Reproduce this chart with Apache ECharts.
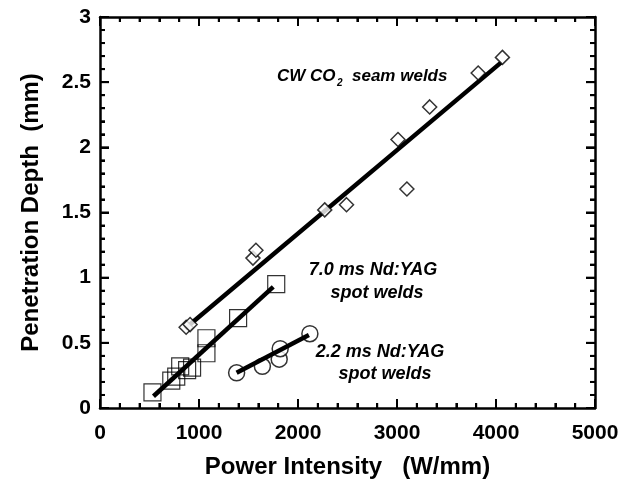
<!DOCTYPE html>
<html><head><meta charset="utf-8">
<script src="https://cdn.jsdelivr.net/npm/echarts@6/dist/echarts.min.js"></script>
<style>html,body{margin:0;background:#fff}#c{width:637px;height:485px}</style>
</head><body><div id="c"></div>
<script>
// CW CO2 seam welds (diamonds)
const co2Power = [870, 910, 1545, 1575, 2270, 2490, 3010, 3100, 3330, 3820, 4065];
const co2Depth = [0.62, 0.64, 1.15, 1.21, 1.52, 1.56, 2.06, 1.68, 2.31, 2.57, 2.69];
// 7.0 ms Nd:YAG spot welds (squares)
const yag7Power = [530, 720, 770, 810, 880, 930, 1075, 1075, 1395, 1780];
const yag7Depth = [0.12, 0.21, 0.24, 0.32, 0.29, 0.31, 0.42, 0.535, 0.69, 0.95];
// 2.2 ms Nd:YAG spot welds (circles)
const yag2Power = [1380, 1640, 1810, 1820, 2120];
const yag2Depth = [0.27, 0.32, 0.375, 0.455, 0.57];
// fitted lines (end points)
const co2FitX = [860, 4050], co2FitY = [0.61, 2.65];
const yag7FitX = [540, 1750], yag7FitY = [0.09, 0.93];
const yag2FitX = [1380, 2110], yag2FitY = [0.27, 0.56];
// axis ticks
const xTicks = [0, 1000, 2000, 3000, 4000, 5000];
const yTicks = [0, 0.5, 1, 1.5, 2, 2.5, 3];
const xMinorStep = 200, yMinorStep = 0.1;

const zip = (a, b) => a.map((v, i) => [v, b[i]]);
const FONT = '"Liberation Sans", Arial, sans-serif';
const XMIN = xTicks[0], XMAX = xTicks[xTicks.length - 1];
const YMIN = yTicks[0], YMAX = yTicks[yTicks.length - 1];

const aline = () => ({show: true, onZero: false, lineStyle: {color: '#000', width: 2.5}});
const lbl = () => ({color: '#000', fontFamily: FONT, fontWeight: 'bold', fontSize: 21});
const nameStyle = () => ({color: '#000', fontFamily: FONT, fontWeight: 'bold', fontSize: 24});
const nativeTick = () => ({show: true, inside: true, length: 9, lineStyle: {color: '#000', width: 2, type: 'solid', opacity: 1}});
const nativeMinor = () => ({show: true, splitNumber: 5, length: 5, lineStyle: {color: '#000', width: 2, type: 'solid', opacity: 1}});

function xAx(pos, show) {
  return {type: 'value', position: pos, min: XMIN, max: XMAX, interval: 1000,
    axisLine: aline(), axisTick: nativeTick(), minorTick: nativeMinor(),
    splitLine: {show: false}, minorSplitLine: {show: false},
    axisLabel: show ? Object.assign({margin: 15, formatter: v => String(v)}, lbl()) : {show: false},
    name: show ? 'Power Intensity   (W/mm)' : '', nameLocation: 'middle', nameGap: 47,
    nameTextStyle: nameStyle()};
}
function yAx(pos, show) {
  return {type: 'value', position: pos, min: YMIN, max: YMAX, interval: 0.5,
    axisLine: aline(), axisTick: nativeTick(), minorTick: nativeMinor(),
    splitLine: {show: false}, minorSplitLine: {show: false},
    axisLabel: show ? Object.assign({margin: 9, formatter: v => String(v)}, lbl()) : {show: false},
    name: show ? 'Penetration Depth  (mm)' : '', nameLocation: 'middle', nameGap: 57,
    nameTextStyle: nameStyle()};
}
const mk = {color: '#fff', borderColor: '#000', borderWidth: 1.5};
const fit = (x, y) => ({type: 'line', data: zip(x, y), symbol: 'none', lineStyle: {color: '#000', width: 4.5}, z: 3, silent: true});
const ann = {fontFamily: FONT, fontWeight: 'bold', fontStyle: 'italic', fontSize: 17, fill: '#000', textVerticalAlign: 'middle'};
const t = (x, y, s, extra) => ({type: 'text', x: x, y: y, style: Object.assign({}, ann, {text: s}, extra || {})});
const annotations = [
  t(277, 76, 'CW CO'),
  t(337, 83, '2', {fontSize: 10}),
  t(352, 76, 'seam welds'),
  t(373, 270, '7.0 ms Nd:YAG', {textAlign: 'center', fontSize: 18}),
  t(377, 293, 'spot welds', {textAlign: 'center', fontSize: 18}),
  t(380, 352, '2.2 ms Nd:YAG', {textAlign: 'center', fontSize: 18}),
  t(385, 374, 'spot welds', {textAlign: 'center', fontSize: 18})
];

const chart = echarts.init(document.getElementById('c'), null, {renderer: 'canvas'});
chart.setOption({
  animation: false,
  backgroundColor: '#fff',
  grid: {left: 100, right: 42, top: 17, bottom: 77},
  xAxis: [xAx('bottom', true), xAx('top', false)],
  yAxis: [yAx('left', true), yAx('right', false)],
  series: [
    fit(co2FitX, co2FitY), fit(yag7FitX, yag7FitY), fit(yag2FitX, yag2FitY),
    {type: 'scatter', data: zip(co2Power, co2Depth), symbol: 'diamond', symbolSize: 14, itemStyle: mk, z: 4},
    {type: 'scatter', data: zip(yag7Power, yag7Depth), symbol: 'rect', symbolSize: 17, itemStyle: Object.assign({}, mk, {color: 'rgba(255,255,255,0)', borderWidth: 1.2}), z: 4},
    {type: 'scatter', data: zip(yag2Power, yag2Depth), symbol: 'circle', symbolSize: 16, itemStyle: mk, z: 2}
  ],
  graphic: annotations
});

// tick marks placed through the chart's own scales (rectangles, in case thin lines are dropped)
try {
  const px = (x, y) => chart.convertToPixel({gridIndex: 0}, [x, y]);
  const tickEls = [];
  const W = 2;
  function addX(v, L) {
    const b = px(v, YMIN), tp = px(v, YMAX);
    tickEls.push({type: 'rect', z: 50, shape: {x: b[0] - W / 2, y: b[1] - L, width: W, height: L}, style: {fill: '#000'}});
    tickEls.push({type: 'rect', z: 50, shape: {x: tp[0] - W / 2, y: tp[1], width: W, height: L}, style: {fill: '#000'}});
  }
  function addY(v, L) {
    const l = px(XMIN, v), r = px(XMAX, v);
    tickEls.push({type: 'rect', z: 50, shape: {x: l[0], y: l[1] - W / 2, width: L, height: W}, style: {fill: '#000'}});
    tickEls.push({type: 'rect', z: 50, shape: {x: r[0] - L, y: r[1] - W / 2, width: L, height: W}, style: {fill: '#000'}});
  }
  for (let i = 0; i < xTicks.length; i++) {
    addX(xTicks[i], 9);
    if (i < xTicks.length - 1) for (let k = 1; k < 5; k++) addX(xTicks[i] + k * xMinorStep, 5);
  }
  for (let i = 0; i < yTicks.length; i++) {
    addY(yTicks[i], 9);
    if (i < yTicks.length - 1) for (let k = 1; k < 5; k++) addY(yTicks[i] + k * yMinorStep, 5);
  }
  chart.setOption({graphic: annotations.concat(tickEls)});
} catch (e) {
  chart.setOption({graphic: annotations.concat([{type: 'text', x: 120, y: 200, z: 100, style: {text: 'ERR ' + e.message, fill: 'red', fontSize: 12}}])});
}
</script></body></html>
